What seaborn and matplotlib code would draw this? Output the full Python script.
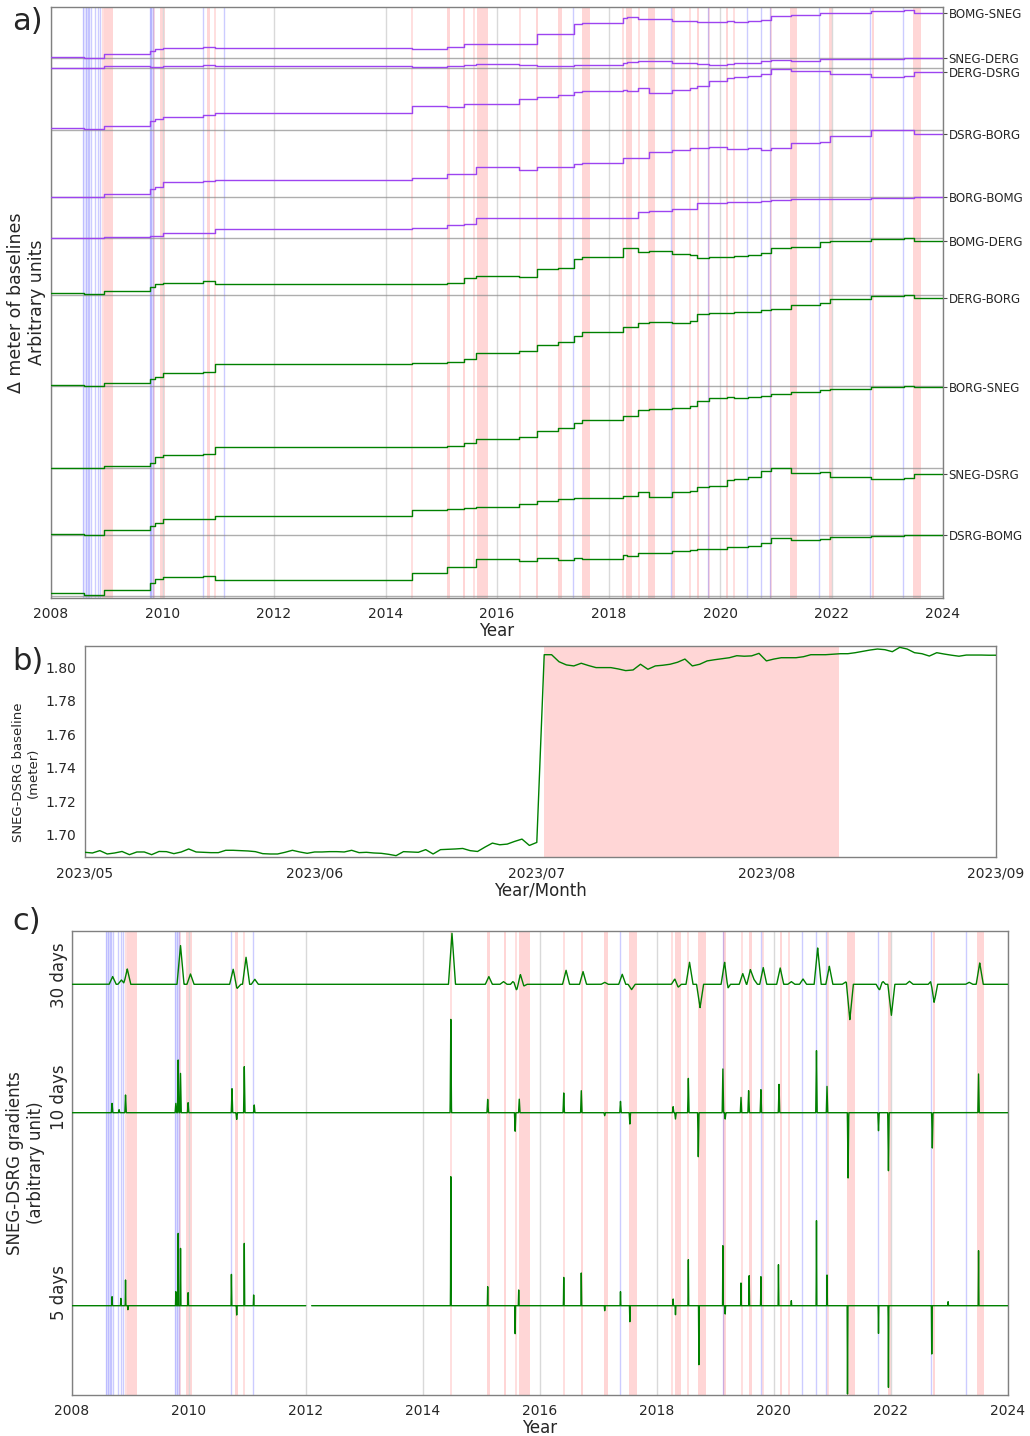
import numpy as np
import pandas as pd
import matplotlib
matplotlib.use("Agg")
import matplotlib.pyplot as plt
import matplotlib.dates as mdates
import seaborn as sns

# ============================ DATA ============================
# Panel a: baseline pairs (offset below the panel top, arbitrary units)
pairs = ["BOMG-SNEG", "SNEG-DERG", "DERG-DSRG", "DSRG-BORG", "BORG-BOMG",
         "BOMG-DERG", "DERG-BORG", "BORG-SNEG", "SNEG-DSRG", "DSRG-BOMG"]
pair_colors = ["#9d44f0"] * 5 + ["green"] * 5

# dates of the jumps (decimal years)
step_years = [2008.60, 2008.95, 2009.78, 2009.87, 2010.00, 2010.73, 2010.94, 2014.47,
              2015.10, 2015.40, 2015.62, 2016.40, 2016.71, 2017.10, 2017.38, 2017.53,
              2018.26, 2018.33, 2018.53, 2018.72, 2019.14, 2019.46, 2019.59, 2019.80,
              2020.12, 2020.26, 2020.50, 2020.73, 2020.92, 2021.27, 2021.79, 2021.97,
              2022.70, 2023.30, 2023.48]

lv_bomg_sneg = [57, 57.7, 54.5, 51, 49.3, 48.3, 47.3, 48.5, 48.7, 47.3, 44, 44.3,
                44.3, 34.3, 34, 24.3, 23.3, 17.7, 16.7, 19, 19.3, 20.7, 20.7, 21.7,
                22, 21, 22, 21.3, 20, 15.7, 15.3, 13.3, 12.7, 11.3, 10.3, 13.3]
lv_sneg_derg = [67.7, 67.7, 66.3, 67, 67, 66.3, 65.3, 66.5, 66.7, 66, 65.5, 64.3,
                65.3, 66, 66.3, 65.3, 64.8, 62.7, 62.3, 61.5, 61.5, 63, 63, 64.3,
                65, 63.7, 63.3, 63, 60.7, 60, 61, 59, 58.7, 58.7, 58.5, 58.3]
lv_derg_dsrg = [128.3, 129.3, 126, 121.5, 118.7, 117.3, 115.5, 113, 106, 107.3, 104.5, 104.3,
                99.3, 97.3, 95, 91.7, 91, 90, 90.7, 88.3, 93, 90, 87.7, 86,
                80.7, 77.7, 76.7, 76, 74, 68.7, 71, 71.5, 74.3, 76.7, 76, 72]
lv_dsrg_borg = [196.7, 197.3, 194.3, 189, 186.7, 182, 181.5, 180.5, 177.7, 174.3, 174, 166.7,
                170, 167.3, 167, 164.3, 163.3, 158.5, 158, 158, 151.7, 150, 148.3, 147.7,
                147.3, 149, 149, 148.3, 150, 148.3, 143.3, 141.7, 135.7, 130, 130, 134]
lv_borg_bomg = [238, 238, 236.7, 236, 236, 233.3, 232.7, 229, 228.3, 225, 224.5, 218.3,
                217.7, 218.3, 218, 218.3, 218, 218, 218.3, 212, 210.7, 209.3, 209, 203.3,
                202.7, 202.3, 202, 201.7, 201, 200, 199.3, 199, 198.7, 198, 197.7, 197.3]
lv_bomg_derg = [293, 294, 290.7, 287, 284, 283.3, 281, 284.5, 284, 282.7, 278, 276,
                276.7, 269.3, 268.3, 259.3, 257.3, 248.3, 248, 252, 251, 254.3, 255, 257.7,
                257.3, 256.7, 255.7, 255, 253.3, 248.3, 247.3, 242.3, 240.7, 239, 238.3, 240.7]
lv_derg_borg = [385, 386, 382.7, 379.3, 376.7, 373.3, 372.3, 364.5, 362.7, 362, 359, 353.3,
                351.3, 345, 342, 336, 331.7, 327.5, 327, 322.7, 321.7, 322.7, 320.7, 314.3,
                313.3, 312.7, 312.3, 312, 310, 309.3, 305, 303.3, 299.3, 296, 295.3, 297.7]
lv_borg_sneg = [467.7, 468.3, 465.7, 462.7, 456.7, 455, 454.5, 447.5, 446.7, 445.7, 443.5, 438.7,
                436.7, 430.7, 428.3, 422.7, 420, 416.3, 416, 410, 409.3, 408.3, 406, 400.7,
                398.3, 397.3, 398, 397.3, 396, 394, 391.7, 390, 388.7, 386.7, 385.7, 387.3]
lv_sneg_dsrg = [534.3, 535.3, 530, 526, 522.7, 519.3, 519.5, 516.5, 510, 508.7, 508, 506.7,
                504, 500.7, 499.3, 497.7, 498.3, 496.5, 496.5, 492.5, 496.7, 492.3, 490.7, 487.3,
                485.7, 480, 479.5, 477.3, 471, 467.7, 473.3, 472.3, 477.3, 479, 478.3, 474]
lv_dsrg_bomg = [593.3, 595, 590, 582.7, 579.3, 576.7, 576.5, 580, 572.7, 566.7, 567, 559.3,
                561, 558.3, 560, 558.3, 559, 555, 556, 552.7, 552.7, 550.7, 550.3, 549.3,
                548.7, 547.3, 547, 546, 543.3, 537.7, 540, 539.5, 536.7, 535.7, 535, 534.7]
pair_levels = [lv_bomg_sneg, lv_sneg_derg, lv_derg_dsrg, lv_dsrg_borg, lv_borg_bomg,
               lv_bomg_derg, lv_derg_borg, lv_borg_sneg, lv_sneg_dsrg, lv_dsrg_bomg]
ref_levels = [58, 68, 130, 197, 238, 295, 386, 468, 535, 596]

# Event markers (decimal years)
pink_spans = [(2008.95, 2009.11), (2009.96, 2010.05), (2010.79, 2010.85), (2015.10, 2015.15),
              (2015.39, 2015.43), (2015.64, 2015.83), (2016.70, 2016.74), (2017.09, 2017.16),
              (2017.53, 2017.66), (2018.32, 2018.42), (2018.71, 2018.84), (2019.14, 2019.19),
              (2019.58, 2019.63), (2020.10, 2020.14), (2021.26, 2021.38), (2021.96, 2022.02),
              (2022.73, 2022.76), (2023.47, 2023.60)]
pink_lines = [2008.93, 2009.85, 2010.94, 2014.48, 2015.59, 2016.41, 2018.26, 2018.54,
              2019.46, 2019.81, 2020.26, 2020.92]
blue_spans = [(2008.58, 2008.66), (2009.77, 2009.83)]
blue_lines = [2008.58, 2008.62, 2008.66, 2008.68, 2008.71, 2008.79, 2008.84, 2008.88,
              2009.77, 2009.80, 2009.83, 2010.72, 2011.10, 2017.37, 2019.13, 2019.78,
              2020.49, 2020.73, 2020.90, 2021.78, 2022.69, 2023.29]

# Panel b: daily SNEG-DSRG baseline (meter), 2023-05-01 .. 2023-09-01
b_start = "2023-05-01"
b_values = [1.6895, 1.6891, 1.6905, 1.6885, 1.6891, 1.6900, 1.6881, 1.6897, 1.6897, 1.6881,
            1.6900, 1.6899, 1.6887, 1.6897, 1.6915, 1.6897, 1.6895, 1.6893, 1.6893, 1.6907,
            1.6907, 1.6905, 1.6903, 1.6899, 1.6887, 1.6885, 1.6885, 1.6895, 1.6907, 1.6897,
            1.6889, 1.6897, 1.6897, 1.6899, 1.6899, 1.6897, 1.6907, 1.6893, 1.6895, 1.6891,
            1.6889, 1.6883, 1.6875, 1.6899, 1.6897, 1.6895, 1.6911, 1.6885, 1.6911, 1.6913,
            1.6915, 1.6918, 1.6905, 1.6900, 1.6926, 1.6950, 1.6940, 1.6944, 1.6960, 1.6974,
            1.6936, 1.6954, 1.8075, 1.8075, 1.8033, 1.8014, 1.8008, 1.8024, 1.8010, 1.7998,
            1.7998, 1.7998, 1.7990, 1.7980, 1.7984, 1.8018, 1.7988, 1.8008, 1.8012, 1.8018,
            1.8030, 1.8049, 1.8008, 1.8018, 1.8038, 1.8045, 1.8051, 1.8057, 1.8069, 1.8066,
            1.8068, 1.8083, 1.8038, 1.8049, 1.8057, 1.8057, 1.8057, 1.8063, 1.8075, 1.8075,
            1.8075, 1.8078, 1.8081, 1.8081, 1.8087, 1.8095, 1.8103, 1.8109, 1.8105, 1.8093,
            1.8119, 1.8109, 1.8087, 1.8081, 1.8067, 1.8087, 1.8079, 1.8072, 1.8066, 1.8073,
            1.8073, 1.8073, 1.8072, 1.8072]
b_event = ("2023-07-02", "2023-08-10 18:00")

# Panel c: gradient spikes (time, amplitude) for each window, arbitrary units
t30 = [2008.70, 2008.85, 2008.95, 2009.86, 2010.03, 2010.76, 2010.83, 2010.98, 2011.13,
       2014.50, 2015.13, 2015.38, 2015.56, 2015.60, 2015.67, 2015.72, 2016.45, 2016.74,
       2017.11, 2017.41, 2017.57, 2018.31, 2018.36, 2018.56, 2018.74, 2019.16, 2019.20,
       2019.47, 2019.60, 2019.66, 2019.82, 2020.11, 2020.30, 2020.50, 2020.75, 2020.95,
       2021.23, 2021.30, 2021.81, 2021.85, 2022.01, 2022.32, 2022.70, 2022.74, 2023.34,
       2023.52]
a30 = [7.7, 4.3, 15.3, 38.7, 10.3, 15, -4, 27, 5,
       51, 7.7, 2.7, 4, -6.7, 10, -2, 14, 12.7,
       2, 10, -5.3, 5.7, -3.3, 22, -23.3, 23.7, -5.3,
       10.7, 14.7, 5, 16.7, 16.3, 2.7, 5.3, 36.3, 18,
       2.3, -35.3, -6.7, 4, -31, 3, 4, -19.3, 2,
       21.3]
t10 = [2008.69, 2008.81, 2008.92, 2009.78, 2009.82, 2009.86, 2009.99, 2010.74, 2010.82,
       2010.95, 2011.12, 2014.48, 2015.11, 2015.58, 2015.65, 2016.41, 2016.71, 2017.11,
       2017.38, 2017.54, 2018.28, 2018.32, 2018.54, 2018.71, 2019.13, 2019.17, 2019.44,
       2019.57, 2019.78, 2020.09, 2020.73, 2020.91, 2021.27, 2021.79, 2021.96, 2022.71,
       2023.50]
a10 = [9.3, 3, 17.7, 9.3, 52.7, 39.3, 10, 24, -6.7,
       46, 7.7, 93.3, 13.3, -18.5, 13.5, 19.7, 22, -3,
       11.3, -11.3, 6, -6.3, 34.3, -44, 43.7, -6.3, 15.3,
       22, 23, 28.3, 62, 26.3, -65.3, -18, -58, -35.3,
       38.7]
t5 = [2008.69, 2008.84, 2008.92, 2008.96, 2009.78, 2009.82, 2009.86, 2009.99, 2010.73,
      2010.82, 2010.95, 2011.11, 2014.48, 2015.11, 2015.58, 2015.64, 2016.41, 2016.71,
      2017.11, 2017.38, 2017.54, 2018.28, 2018.32, 2018.54, 2018.72, 2019.13, 2019.17,
      2019.44, 2019.58, 2019.78, 2020.08, 2020.30, 2020.73, 2020.91, 2021.26, 2021.79,
      2021.96, 2022.70, 2022.98, 2023.50]
a5 = [9, 7.3, 25.7, -4, 14, 72.3, 57.3, 13, 31.3,
      -9.3, 62.3, 10.7, 129, 19, -28, 15.7, 28.3, 32.7,
      -5, 14, -16, 6.7, -9, 46, -59, 60, -8.3,
      22.7, 30, 29, 41, 5, 85, 30.7, -88.3, -27.7,
      -81.7, -48.3, 4, 55]
window_labels = ["30 days", "10 days", "5 days"]
window_base = [984.3, 1112.7, 1305.7]      # offset of each trace below panel top
window_label_pos = [975, 1097, 1293]
window_halfwidth = [0.06, 0.012, 0.006]     # spike half width (years), style
gap5 = (2012.0, 2012.1)

# ============================ STYLE ============================
sns.set_style("white")
plt.rcParams["font.family"] = ["DejaVu Sans"]
plt.rcParams["axes.edgecolor"] = "0.5"
plt.rcParams["axes.linewidth"] = 1.0

W, H = 1030, 1436
fig = plt.figure(figsize=(W / 100, H / 100), dpi=100)


def frac(l, t, r, b):
    return [l / W, 1 - b / H, (r - l) / W, (b - t) / H]


def shade(ax):
    for s, e in pink_spans:
        ax.axvspan(s, e, color="red", alpha=0.16, lw=0, zorder=0)
    for t in pink_lines:
        ax.axvline(t, color="red", alpha=0.15, lw=1.2, zorder=0)
    for s, e in blue_spans:
        ax.axvspan(s, e, color="blue", alpha=0.07, lw=0, zorder=0)
    for t in blue_lines:
        ax.axvline(t, color="blue", alpha=0.2, lw=1, zorder=0)
    for y in range(2008, 2025, 2):
        ax.axvline(y, color="0.85", lw=1, zorder=0)


# ============================ PANEL a ============================
axa = fig.add_axes(frac(51, 7, 943, 598))
shade(axa)
xa = [2008.0] + step_years + [2024.0]
for name, lv, col, ref in zip(pairs, pair_levels, pair_colors, ref_levels):
    axa.axhline(ref, color="0.55", lw=1, alpha=0.7, zorder=1)
    df = pd.DataFrame({"year": xa, "value": lv + [lv[-1]]})
    sns.lineplot(data=df, x="year", y="value", ax=axa, color=col, lw=1,
                 drawstyle="steps-post", estimator=None, sort=False, zorder=3)
axa.set_xlim(2008, 2024)
axa.set_ylim(598, 7)
axa.set_xticks(range(2008, 2025, 2))
axa.yaxis.tick_right()
axa.set_yticks([lv[-1] for lv in pair_levels])
axa.set_yticklabels(pairs, fontsize=8.5)
axa.tick_params(axis="y", length=3, pad=1, color="0.3")
axa.tick_params(axis="x", labelsize=10, length=3)
axa.set_xlabel("Year", fontsize=12, labelpad=1)
axa.yaxis.set_label_position("left")
axa.set_ylabel("Δ meter of baselines\nArbitrary units", fontsize=12.5)
axa.yaxis.set_label_coords(-0.006, 0.5)

# ============================ PANEL b ============================
axb = fig.add_axes(frac(85, 646, 996, 857))
dates_b = pd.date_range(b_start, periods=len(b_values), freq="D")
axb.axvspan(pd.Timestamp(b_event[0]), pd.Timestamp(b_event[1]), color="red",
            alpha=0.16, lw=0, zorder=0)
sns.lineplot(x=dates_b, y=b_values, ax=axb, color="green", lw=1, zorder=3)
axb.set_xlim(pd.Timestamp("2023-05-01"), pd.Timestamp("2023-09-01"))
axb.set_ylim(1.6867, 1.8127)
axb.set_yticks(np.round(np.arange(1.70, 1.8001, 0.02), 2))
axb.yaxis.set_major_formatter(matplotlib.ticker.FormatStrFormatter("%.2f"))
axb.xaxis.set_major_locator(mdates.MonthLocator())
axb.xaxis.set_major_formatter(mdates.DateFormatter("%Y/%m"))
axb.tick_params(labelsize=10, length=3)
axb.set_xlabel("Year/Month", fontsize=12, labelpad=1)
axb.set_ylabel("SNEG-DSRG baseline\n(meter)", fontsize=9.5)
axb.yaxis.set_label_coords(-0.049, 0.40)

# ============================ PANEL c ============================
axc = fig.add_axes(frac(71.7, 931, 1007.8, 1395))
shade(axc)
grid = np.union1d(np.arange(2008.0, 2024.0001, 1 / 365.25), np.array(t30 + t10 + t5))
frames = []
for lab, ts, amps, base, hw in zip(window_labels, [t30, t10, t5], [a30, a10, a5],
                                   window_base, window_halfwidth):
    sig = np.zeros_like(grid)
    for t, a in zip(ts, amps):
        sig += a * np.clip(1 - np.abs(grid - t) / hw, 0, None)
    seg = np.zeros(len(grid), dtype=int)
    keep = np.ones(len(grid), dtype=bool)
    if lab == "5 days":
        keep = ~((grid > gap5[0]) & (grid < gap5[1]))
        seg = (grid >= gap5[1]).astype(int)
    frames.append(pd.DataFrame({"year": grid[keep], "value": (base - sig)[keep],
                                "unit": [lab + str(s) for s in seg[keep]]}))
dfc = pd.concat(frames, ignore_index=True)
sns.lineplot(data=dfc, x="year", y="value", units="unit", estimator=None, ax=axc,
             color="green", lw=1, sort=False, zorder=3)
axc.set_xlim(2008, 2024)
axc.set_ylim(1395, 931)
axc.set_xticks(range(2008, 2025, 2))
axc.set_yticks(window_label_pos)
axc.set_yticklabels(window_labels, rotation=90, va="center", fontsize=12)
axc.tick_params(axis="y", length=0, pad=3)
axc.tick_params(axis="x", labelsize=10, length=3)
axc.set_xlabel("Year", fontsize=12, labelpad=1)
axc.set_ylabel("SNEG-DSRG gradients\n(arbitrary unit)", fontsize=12)
axc.yaxis.set_label_coords(-0.0285, 0.5)

# panel letters
fig.text(12 / W, 1 - 22 / H, "a)", fontsize=22, ha="left", va="center")
fig.text(12 / W, 1 - 662 / H, "b)", fontsize=22, ha="left", va="center")
fig.text(12 / W, 1 - 921 / H, "c)", fontsize=22, ha="left", va="center")

fig.savefig("out.png", dpi=100)
